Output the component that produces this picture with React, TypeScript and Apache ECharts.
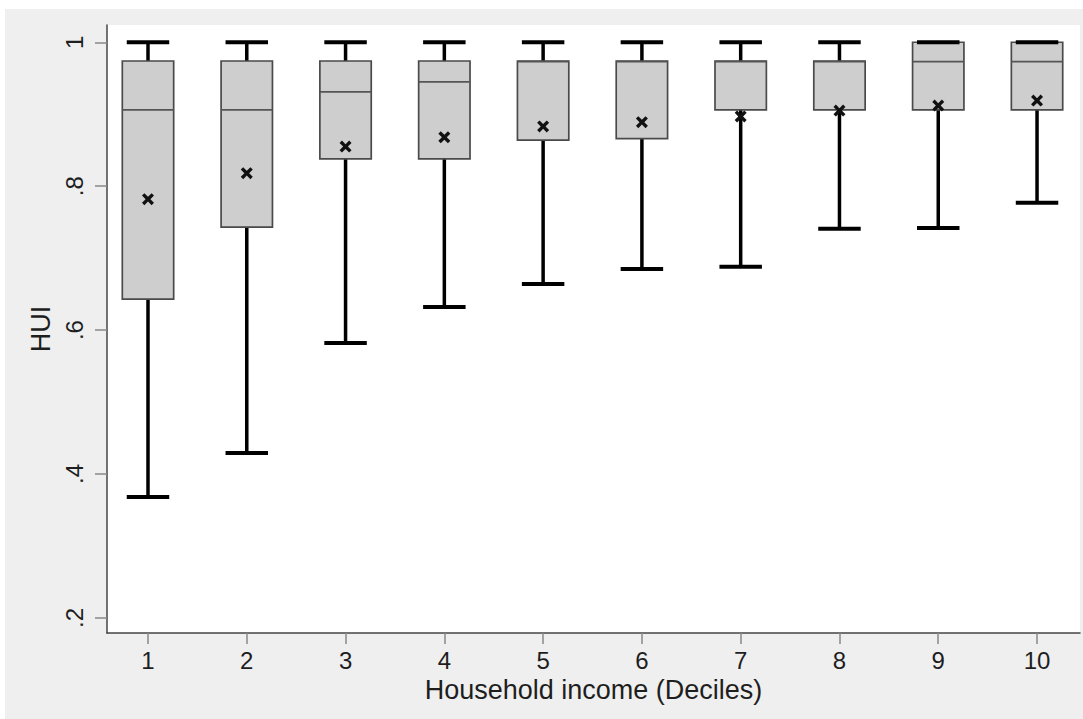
import React, { useEffect, useRef } from 'react';
import * as echarts from 'echarts';

// ---- Data ----
const deciles = ['1', '2', '3', '4', '5', '6', '7', '8', '9', '10'];
const xPositions = [1, 2, 3, 4, 5, 6, 7, 8, 9, 10];
const whiskerLow = [0.368, 0.429, 0.582, 0.632, 0.664, 0.685, 0.688, 0.741, 0.742, 0.777];
const q1 = [0.643, 0.743, 0.838, 0.838, 0.864, 0.866, 0.906, 0.906, 0.906, 0.906];
const median = [0.906, 0.906, 0.931, 0.945, 0.973, 0.973, 0.973, 0.973, 0.973, 0.973];
const q3 = [0.974, 0.974, 0.974, 0.974, 0.974, 0.974, 0.974, 0.974, 1, 1];
const whiskerHigh = [1, 1, 1, 1, 1, 1, 1, 1, 1, 1];
const means = [0.782, 0.818, 0.855, 0.868, 0.883, 0.889, 0.897, 0.905, 0.912, 0.919];
const yTickValues = [0.2, 0.4, 0.6, 0.8, 1];
const yTickLabels = ['.2', '.4', '.6', '.8', '1'];

const FONT = '"Liberation Sans", Arial, Helvetica, sans-serif';
const TEXT = '#1e1e1e';

export default function App() {
  const ref = useRef<HTMLDivElement>(null);

  useEffect(() => {
    const chart = echarts.init(ref.current!, null, { renderer: 'svg' });
    const boxData = xPositions.map((x, i) => [x, whiskerLow[i], q1[i], median[i], q3[i], whiskerHigh[i]]);
    const meanData = xPositions.map((x, i) => [x, means[i]]);

    chart.setOption({
      animation: false,
      backgroundColor: '#efefef',
      grid: {
        left: 102,
        right: 3,
        top: 16,
        bottom: 86,
        show: true,
        backgroundColor: '#ffffff',
        borderWidth: 0,
        containLabel: false,
        outerBoundsMode: 'none',
      },
      xAxis: {
        type: 'value',
        min: 0.585,
        max: 10.435,
        name: 'Household income (Deciles)',
        nameLocation: 'middle',
        nameGap: 43,
        nameTextStyle: { fontSize: 27, color: TEXT, fontFamily: FONT },
        axisLine: { show: true, onZero: false, lineStyle: { color: '#444', width: 1.5 } },
        axisTick: { show: true, customValues: xPositions, length: 11, lineStyle: { color: '#888', width: 1.5 } },
        axisLabel: {
          customValues: xPositions,
          formatter: (v: number) => deciles[Math.round(v) - 1],
          margin: 15,
          fontSize: 24,
          color: TEXT,
          fontFamily: FONT,
        },
        splitLine: { show: false },
      },
      yAxis: {
        type: 'value',
        min: 0.179,
        max: 1.024,
        name: 'HUI',
        nameLocation: 'middle',
        nameGap: 50,
        nameTextStyle: { fontSize: 27, color: TEXT, fontFamily: FONT },
        axisLine: { show: true, onZero: false, lineStyle: { color: '#444', width: 1.5 } },
        axisTick: { show: true, customValues: yTickValues, length: 12, lineStyle: { color: '#888', width: 1.5 } },
        axisLabel: {
          customValues: yTickValues,
          rotate: 90,
          formatter: (v: number) => {
            const idx = yTickValues.findIndex((t) => Math.abs(t - v) < 1e-6);
            return idx >= 0 ? yTickLabels[idx] : '';
          },
          margin: 21,
          fontSize: 24,
          color: TEXT,
          fontFamily: FONT,
        },
        splitLine: { show: false },
      },
      series: [
        {
          type: 'custom',
          data: boxData,
          encode: { x: 0, y: [1, 2, 3, 4, 5] },
          z: 2,
          renderItem: (params: any, api: any) => {
            const x = api.value(0);
            const lo = api.value(1);
            const a = api.value(2);
            const m = api.value(3);
            const b = api.value(4);
            const hi = api.value(5);
            const pLo = api.coord([x, lo]);
            const pA = api.coord([x, a]);
            const pM = api.coord([x, m]);
            const pB = api.coord([x, b]);
            const pHi = api.coord([x, hi]);
            const boxW = api.size([0.52, 0])[0];
            const capW = api.size([0.43, 0])[0];
            const cx = pA[0];
            const children: any[] = [];
            if (hi > b) {
              children.push({
                type: 'line',
                shape: { x1: cx, y1: pB[1], x2: cx, y2: pHi[1] },
                style: { stroke: '#000', lineWidth: 3.5 },
              });
            }
            if (lo < a) {
              children.push({
                type: 'line',
                shape: { x1: cx, y1: pA[1], x2: cx, y2: pLo[1] },
                style: { stroke: '#000', lineWidth: 3.5 },
              });
            }
            children.push({
              type: 'rect',
              shape: { x: cx - boxW / 2, y: pB[1], width: boxW, height: pA[1] - pB[1] },
              style: { fill: '#cecece', stroke: '#4a4a4a', lineWidth: 1.7 },
            });
            children.push({
              type: 'line',
              shape: { x1: cx - boxW / 2, y1: pM[1], x2: cx + boxW / 2, y2: pM[1] },
              style: { stroke: '#555', lineWidth: 1.7 },
            });
            children.push({
              type: 'line',
              shape: { x1: cx - capW / 2, y1: pHi[1], x2: cx + capW / 2, y2: pHi[1] },
              style: { stroke: '#000', lineWidth: 4 },
            });
            children.push({
              type: 'line',
              shape: { x1: cx - capW / 2, y1: pLo[1], x2: cx + capW / 2, y2: pLo[1] },
              style: { stroke: '#000', lineWidth: 4 },
            });
            return { type: 'group', children };
          },
        },
        {
          type: 'scatter',
          data: meanData,
          z: 5,
          symbol: 'path://M0,2 L2,0 L5,3 L8,0 L10,2 L7,5 L10,8 L8,10 L5,7 L2,10 L0,8 L3,5 Z',
          symbolSize: 12,
          itemStyle: { color: '#111', opacity: 1 },
        },
      ],
    });

    return () => chart.dispose();
  }, []);

  return (
    <div
      ref={ref}
      style={{ position: 'fixed', left: 5, top: 9, width: 1078, height: 710 }}
    />
  );
}
